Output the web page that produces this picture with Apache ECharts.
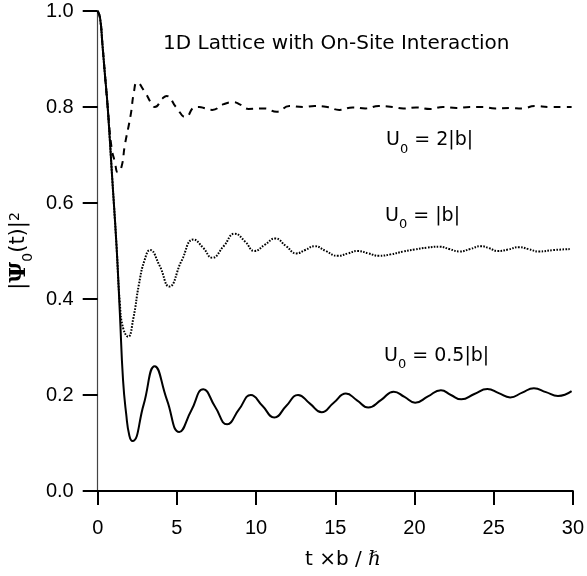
<!DOCTYPE html>
<html>
<head>
<meta charset="utf-8">
<script src="https://cdn.jsdelivr.net/npm/echarts@6/dist/echarts.min.js"></script>
<style>
html,body{margin:0;padding:0;background:#fff;}
#chart{width:587px;height:576px;}
</style>
</head>
<body>
<div id="chart"></div>
<script>
// ---- data ----
const xTicks = [0, 5, 10, 15, 20, 25, 30];
const yTicks = [0.0, 0.2, 0.4, 0.6, 0.8, 1.0];

// U0 = 0.5|b|  (solid)
const tSolid = [0, 0.15, 0.3, 0.45, 0.63, 0.92, 1.19, 1.4, 1.6, 1.8, 2.0, 2.2, 2.9, 3.6, 4.37, 5.15, 5.9, 6.67, 7.42, 8.17, 8.92, 9.67, 10.41, 11.15, 11.9, 12.65, 13.4, 14.14, 14.9, 15.67, 16.37, 17.08, 17.9, 18.69, 19.37, 20.04, 20.85, 21.67, 22.3, 22.96, 23.78, 24.6, 25.32, 26.04, 26.8, 27.54, 28.3, 29.06, 29.92];
const vSolid = [1.0, 0.985, 0.93, 0.87, 0.80, 0.65, 0.51, 0.37, 0.231, 0.16, 0.115, 0.104, 0.18, 0.260, 0.19, 0.123, 0.167, 0.212, 0.175, 0.139, 0.17, 0.200, 0.177, 0.153, 0.177, 0.200, 0.182, 0.164, 0.184, 0.203, 0.189, 0.174, 0.19, 0.207, 0.196, 0.184, 0.197, 0.210, 0.20, 0.191, 0.202, 0.2125, 0.204, 0.195, 0.205, 0.214, 0.206, 0.198, 0.208];

// U0 = |b|  (dotted)
const tDotted = [0, 0.15, 0.3, 0.45, 0.63, 0.92, 1.19, 1.4, 1.6, 1.92, 2.25, 2.6, 2.95, 3.31, 3.9, 4.52, 5.3, 6.05, 6.65, 7.23, 7.95, 8.65, 9.3, 9.9, 10.55, 11.2, 11.9, 12.54, 13.1, 13.7, 14.4, 15.15, 15.8, 16.4, 17.1, 17.75, 18.5, 19.3, 20.0, 20.8, 21.6, 22.2, 22.85, 23.5, 24.2, 24.7, 25.25, 25.9, 26.6, 27.2, 27.85, 28.8, 29.8];
const vDotted = [1.0, 0.985, 0.93, 0.87, 0.80, 0.65, 0.51, 0.39, 0.34, 0.3215, 0.36, 0.43, 0.48, 0.502, 0.47, 0.426, 0.48, 0.524, 0.507, 0.486, 0.51, 0.536, 0.52, 0.50, 0.513, 0.526, 0.51, 0.495, 0.502, 0.51, 0.50, 0.49, 0.495, 0.50, 0.495, 0.49, 0.493, 0.499, 0.503, 0.507, 0.509, 0.504, 0.499, 0.504, 0.51, 0.506, 0.50, 0.503, 0.508, 0.504, 0.499, 0.502, 0.504];

// U0 = 2|b|  (dashed)
const tDashed = [0, 0.15, 0.3, 0.45, 0.63, 0.875, 1.08, 1.27, 1.5, 1.71, 2.08, 2.29, 2.48, 2.96, 3.38, 3.6, 4.1, 4.35, 4.94, 5.56, 6.1, 6.4, 6.8, 7.23, 7.96, 8.55, 9.0, 9.52, 10.56, 11.3, 12.1, 12.96, 13.7, 14.5, 15.25, 16.1, 16.9, 17.75, 18.6, 19.3, 20.1, 21.0, 21.8, 22.65, 23.5, 24.3, 25.1, 26.0, 26.8, 27.6, 28.5, 29.4, 29.92];
const vDashed = [1.0, 0.985, 0.93, 0.87, 0.80, 0.715, 0.686, 0.664, 0.675, 0.72, 0.783, 0.832, 0.851, 0.832, 0.808, 0.80, 0.818, 0.823, 0.80, 0.779, 0.799, 0.80, 0.797, 0.794, 0.806, 0.81, 0.805, 0.796, 0.797, 0.79, 0.802, 0.80, 0.802, 0.80, 0.794, 0.799, 0.797, 0.802, 0.80, 0.797, 0.799, 0.796, 0.80, 0.798, 0.80, 0.80, 0.797, 0.798, 0.797, 0.802, 0.80, 0.80, 0.80];

const titleText = '1D Lattice with On-Site Interaction';
const labelDashed = '{a|U}{s|0}{a| = 2|b|}';
const labelDotted = '{a|U}{s|0}{a| = |b|}';
const labelSolid = '{a|U}{s|0}{a| = 0.5|b|}';

function pairs(t, v) { return t.map((x, i) => [x, v[i]]); }

const FONT = 'Liberation Sans';
const AFONT = 'DejaVu Sans';
const subRich = {
  a: { fontSize: 19, lineHeight: 22, verticalAlign: 'top', fontFamily: AFONT, color: '#000' },
  s: { fontSize: 13, lineHeight: 13, verticalAlign: 'top', padding: [12, 0, 0, 0], fontFamily: AFONT, color: '#000' }
};

const chart = echarts.init(document.getElementById('chart'), null, { renderer: 'canvas' });
chart.setOption({
  animation: false,
  backgroundColor: '#fff',
  grid: { left: 96, right: 12, top: 11, bottom: 85, containLabel: false },
  xAxis: {
    type: 'value', min: 0, max: 30, interval: 5,
    axisLine: { show: true, lineStyle: { color: '#000', width: 2 } },
    axisTick: { show: true, inside: false, length: 14, lineStyle: { color: '#000', width: 2 } },
    axisLabel: { margin: 27, fontSize: 20, fontFamily: FONT, color: '#000' },
    splitLine: { show: false }
  },
  yAxis: {
    type: 'value', min: 0, max: 1, interval: 0.2,
    axisLine: { show: true, lineStyle: { color: '#444', width: 1.2 } },
    axisTick: { show: true, inside: false, length: 15, lineStyle: { color: '#000', width: 2 } },
    axisLabel: { margin: 24, fontSize: 20, fontFamily: FONT, color: '#000',
      formatter: v => v.toFixed(1) },
    splitLine: { show: false },
    name: '{a||}{psi|Ψ}{s|0}{a|(t)|}{sup|2}',
    nameLocation: 'middle', nameRotate: 90, nameGap: 58,
    nameTextStyle: {
      rich: {
        a: { fontSize: 21, lineHeight: 24, verticalAlign: 'top', fontFamily: AFONT, color: '#000' },
        psi: { fontSize: 23, lineHeight: 24, verticalAlign: 'top', fontFamily: 'DejaVu Serif', fontWeight: 'bold', color: '#000' },
        s: { fontSize: 14, lineHeight: 14, verticalAlign: 'top', padding: [13, 0, 0, 0], fontFamily: AFONT, color: '#000' },
        sup: { fontSize: 14, lineHeight: 14, verticalAlign: 'top', fontFamily: AFONT, color: '#000' }
      }
    }
  },
  series: [
    { type: 'line', data: pairs(tDashed, vDashed), smooth: 0.5, showSymbol: false,
      lineStyle: { color: '#000', width: 2, type: [7, 6] }, z: 3 },
    { type: 'line', data: pairs(tDotted, vDotted), smooth: 0.5, showSymbol: false,
      lineStyle: { color: '#000', width: 2, type: [1.6, 1.4] }, z: 4 },
    { type: 'line', data: pairs(tSolid, vSolid), smooth: 0.5, showSymbol: false,
      lineStyle: { color: '#000', width: 2 }, z: 5 }
  ],
  graphic: [
    { type: 'text', x: 163, y: 44, style: { text: titleText, font: '20px "DejaVu Sans"', fill: '#000', textVerticalAlign: 'middle', verticalAlign: 'middle' } },
    { type: 'text', x: 386, y: 142, style: { text: labelDashed, rich: subRich, fill: '#000', verticalAlign: 'middle', textVerticalAlign: 'middle' } },
    { type: 'text', x: 385, y: 217.5, style: { text: labelDotted, rich: subRich, fill: '#000', verticalAlign: 'middle', textVerticalAlign: 'middle' } },
    { type: 'text', x: 384, y: 357.5, style: { text: labelSolid, rich: subRich, fill: '#000', verticalAlign: 'middle', textVerticalAlign: 'middle' } },
    { type: 'text', x: 343, y: 560, style: {
        text: '{a|t ×b / }{h|ℏ}', fill: '#000', align: 'center', verticalAlign: 'middle', textAlign: 'center', textVerticalAlign: 'middle',
        rich: {
          a: { fontSize: 20, fontFamily: AFONT, color: '#000' },
          h: { fontSize: 20, fontFamily: 'DejaVu Serif', fontStyle: 'italic', color: '#000' }
        } } }
  ]
});
</script>
</body>
</html>
